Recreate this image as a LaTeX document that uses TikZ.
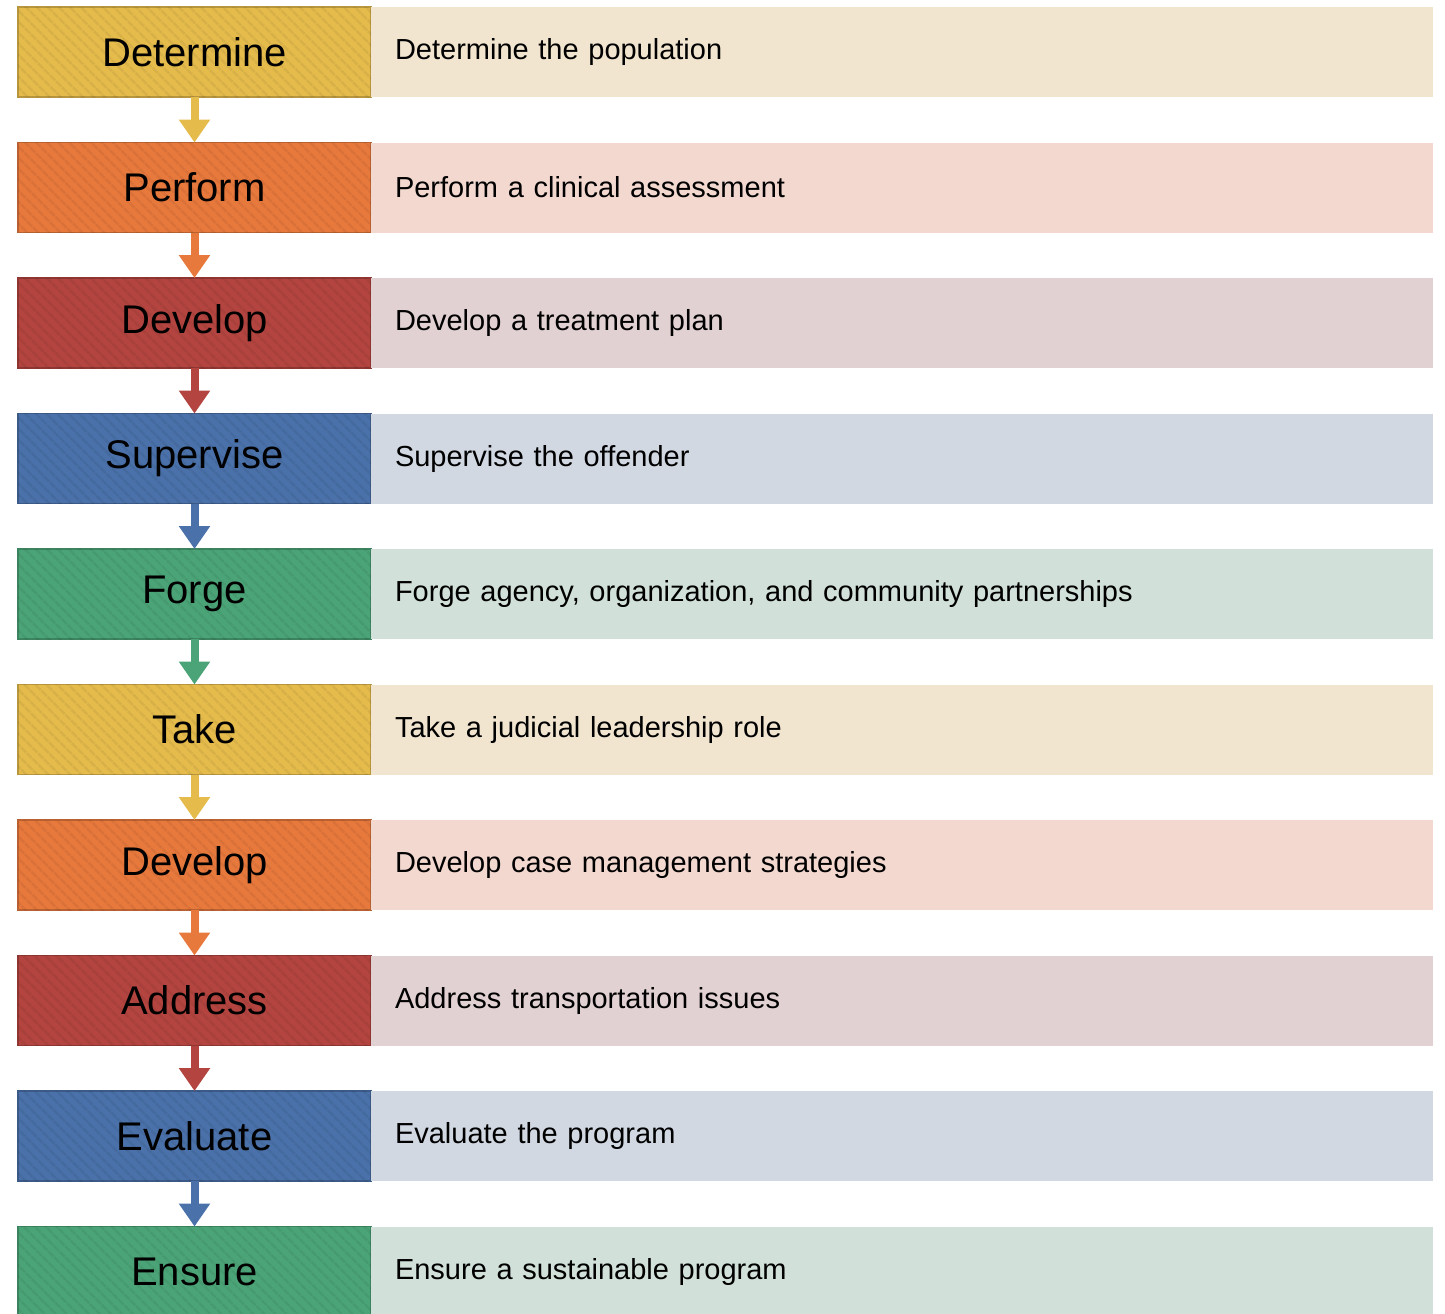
\documentclass[tikz,border=0pt]{standalone}
\usepackage{fontspec}
\setmainfont{Liberation Sans}
\usepackage{tikz}
\usetikzlibrary{positioning,arrows.meta,patterns.meta}

\definecolor{gold}{HTML}{E5BC4C}
\definecolor{carrot}{HTML}{E8793D}
\definecolor{brick}{HTML}{B3443F}
\definecolor{steel}{HTML}{4A71A9}
\definecolor{jade}{HTML}{4BA477}
\definecolor{goldLt}{HTML}{F2E5D0}
\definecolor{carrotLt}{HTML}{F3D8D0}
\definecolor{brickLt}{HTML}{E2D1D2}
\definecolor{steelLt}{HTML}{D1D8E2}
\definecolor{jadeLt}{HTML}{D1E0D9}

\begin{document}
\begin{tikzpicture}[x=0.5pt, y=-0.5pt,
    stage/.style={rectangle, fill=#1, draw=#1!80!black, line width=0.6pt,
      minimum width=176.5pt, minimum height=45pt, outer sep=0pt, inner sep=0pt,
      font=\fontsize{20}{24}\selectfont,
      postaction={pattern={Lines[angle=-45,distance=4pt,line width=1.4pt]},
        pattern color=black, fill opacity=.06}},
    detail/.style={rectangle, fill=#1, minimum width=531pt, minimum height=45pt,
      outer sep=0pt, inner xsep=12pt, inner ysep=0pt, text width=507pt,
      align=left, font=\fontsize{14.5}{17}\selectfont},
    flow/.style={draw=#1, line width=4pt,
      -{Triangle[width=15pt,length=11.5pt,fill=#1]}}]
  \useasboundingbox (0,0) rectangle (1445,1313);

  % left column of steps
  \node (det)  [stage=gold]   at (194.5,52)     {Determine};
  \node (perf) [stage=carrot] at (194.5,187.5)  {Perform};
  \node (dev)  [stage=brick]  at (194.5,323)    {Develop};
  \node (sup)  [stage=steel]  at (194.5,458.5)  {Supervise};
  \node (forg) [stage=jade]   at (194.5,594)    {Forge};
  \node (take) [stage=gold]   at (194.5,729.5)  {Take};
  \node (devc) [stage=carrot] at (194.5,865)    {Develop};
  \node (addr) [stage=brick]  at (194.5,1000.5) {Address};
  \node (eval) [stage=steel]  at (194.5,1136)   {Evaluate};
  \node (ens)  [stage=jade]   at (194.5,1271.5) {Ensure};

  % descriptions
  \node (detT)  [detail=goldLt,   right=0pt of det]  {Determine the population};
  \node (perfT) [detail=carrotLt, right=0pt of perf] {Perform a clinical assessment};
  \node (devT)  [detail=brickLt,  right=0pt of dev]  {Develop a treatment plan};
  \node (supT)  [detail=steelLt,  right=0pt of sup]  {Supervise the offender};
  \node (forgT) [detail=jadeLt,   right=0pt of forg] {Forge agency, organization, and community partnerships};
  \node (takeT) [detail=goldLt,   right=0pt of take] {Take a judicial leadership role};
  \node (devcT) [detail=carrotLt, right=0pt of devc] {Develop case management strategies};
  \node (addrT) [detail=brickLt,  right=0pt of addr] {Address transportation issues};
  \node (evalT) [detail=steelLt,  right=0pt of eval] {Evaluate the program};
  \node (ensT)  [detail=jadeLt,   right=0pt of ens]  {Ensure a sustainable program};

  % arrows between steps
  \draw[flow=gold]   (det.south)  -- (perf.north);
  \draw[flow=carrot] (perf.south) -- (dev.north);
  \draw[flow=brick]  (dev.south)  -- (sup.north);
  \draw[flow=steel]  (sup.south)  -- (forg.north);
  \draw[flow=jade]   (forg.south) -- (take.north);
  \draw[flow=gold]   (take.south) -- (devc.north);
  \draw[flow=carrot] (devc.south) -- (addr.north);
  \draw[flow=brick]  (addr.south) -- (eval.north);
  \draw[flow=steel]  (eval.south) -- (ens.north);
\end{tikzpicture}
\end{document}
